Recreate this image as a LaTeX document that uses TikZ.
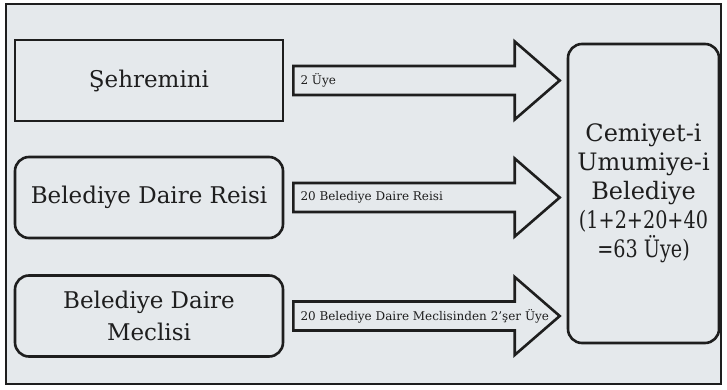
\documentclass[tikz,border=0pt]{standalone}
\usepackage{fontspec}
\setmainfont{DejaVu Serif}
\newfontfamily\narrowserif[FakeStretch=0.8]{DejaVu Serif}
\usepackage{tikz}
\usetikzlibrary{calc}
\definecolor{paper}{RGB}{229,233,236}
\definecolor{ink}{RGB}{30,30,30}
\tikzset{
    flat-box/.style = {draw=ink, fill=paper, line width=2.6pt, rectangle, minimum width=268pt, minimum height=81pt, inner xsep=2pt, align=center, text=ink, font=\fontsize{23}{32}\selectfont},
    round-box/.style = {flat-box, rounded corners=14pt},
    fat-arrow/.style = {draw=ink, fill=paper, line width=2.6pt, line join=miter},
    arrow-label/.style = {anchor=west, inner sep=0pt, text=ink, font=\fontsize{12}{14}\selectfont},
}
\newcommand{\fatarrow}[3]{%
  \coordinate (tip) at ($(#2.west |- #1.east)+(-7,0)$);
  \draw[fat-arrow] ($(#1.east)+(9,-14.5)$) -- ($(tip)+(-45,-14.5)$) -- ($(tip)+(-45,-39)$) -- (tip)
     -- ($(tip)+(-45,39)$) -- ($(tip)+(-45,14.5)$) -- ($(#1.east)+(9,14.5)$) -- cycle;
  \node[arrow-label] at ($(#1.east)+(16,0)$) {#3};
}
\begin{document}
\begin{tikzpicture}[x=1pt,y=-1pt]
\useasboundingbox (0,0) rectangle (727,390);
\draw[draw=ink, fill=paper, line width=2pt] (6,4) rectangle (721,384);

\node[flat-box] (mayor) at (149,80.5) {Şehremini};
\node[round-box] (chief) at (149,197.5) {Belediye Daire Reisi};
\node[round-box] (council) at (149,316) {Belediye Daire\\Meclisi};
\node[round-box, minimum width=151pt, minimum height=299pt, font=\fontsize{24}{29}\selectfont] (assembly) at (643.5,193.5)
    {Cemiyet-i\\Umumiye-i\\Belediye\\{\narrowserif(1+2+20+40}\\{\narrowserif=63 Üye)}};

\fatarrow{mayor}{assembly}{2 Üye}
\fatarrow{chief}{assembly}{20 Belediye Daire Reisi}
\fatarrow{council}{assembly}{20 Belediye Daire Meclisinden 2’şer Üye}
\end{tikzpicture}
\end{document}
